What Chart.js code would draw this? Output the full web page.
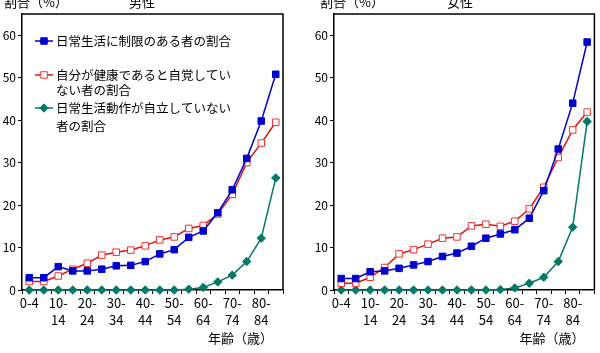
<!DOCTYPE html>
<html lang="ja">
<head>
<meta charset="utf-8">
<script src="https://cdn.jsdelivr.net/npm/chart.js@4.4.0/dist/chart.umd.min.js"></script>
<style>
    body { margin: 0; background: #fff; }
    #wrap { display: flex; width: 600px; height: 353px; }
    canvas { display: block; }
</style>
</head>
<body>
<div id="wrap">
    <canvas id="maleChart" width="300" height="353"></canvas>
    <canvas id="femaleChart" width="300" height="353"></canvas>
</div>
<script>
// 年齢階級（5歳刻み、ラベルは10歳ごと）
const ageLabels = ['0-4', '', ['10-', '14'], '', ['20-', '24'], '', ['30-', '34'], '', ['40-', '44'], '',
    ['50-', '54'], '', ['60-', '64'], '', ['70-', '74'], '', ['80-', '84'], ''];

// 男性
const limitedMale = [2.9, 2.9, 5.5, 4.5, 4.5, 4.9, 5.7, 5.8, 6.7, 8.5, 9.5, 12.4, 13.9, 18.2, 23.6, 31.0, 39.8, 50.8];
const unhealthyMale = [2.0, 2.0, 3.3, 4.9, 6.3, 8.2, 8.9, 9.4, 10.4, 11.8, 12.5, 14.5, 15.2, 17.9, 22.5, 30.0, 34.6, 39.5];
const adlMale = [0, 0, 0, 0, 0, 0, 0, 0, 0, 0, 0, 0.2, 0.6, 1.9, 3.5, 6.7, 12.2, 26.4];

// 女性
const limitedFemale = [2.7, 2.7, 4.3, 4.5, 5.1, 5.9, 6.7, 7.9, 8.7, 10.3, 12.2, 13.2, 14.2, 16.9, 23.4, 33.2, 44.0, 58.4];
const unhealthyFemale = [1.6, 1.6, 3.0, 5.3, 8.5, 9.5, 10.8, 12.2, 12.5, 15.1, 15.5, 15.0, 16.2, 19.1, 24.2, 31.2, 37.7, 41.9];
const adlFemale = [0, 0, 0, 0, 0, 0, 0, 0, 0, 0, 0, 0.1, 0.5, 1.6, 3.0, 6.7, 14.8, 39.7];

const yTicks = [0, 10, 20, 30, 40, 50, 60];
const legendLabels = [
    ['日常生活に制限のある者の割合'],
    ['自分が健康であると自覚してい', 'ない者の割合'],
    ['日常生活動作が自立していない', '者の割合']
];

const fontFamily = "'Noto Sans CJK JP', 'Noto Sans', sans-serif";
Chart.defaults.font.family = fontFamily;
Chart.defaults.color = '#000';

const styles = [
    {line: '#0000cc', point: '#0000cc', fill: '#0000cc', shape: 'rect', r: 4.6},
    {line: '#dd1111', point: '#ee3333', fill: '#ffffff', shape: 'rect', r: 4.6},
    {line: '#007a66', point: '#007a66', fill: '#007a66', shape: 'rectRot', r: 4.2}
];

const drawMarker = (ctx, st, x, y) => {
    ctx.save();
    ctx.fillStyle = st.fill;
    ctx.strokeStyle = st.point;
    ctx.lineWidth = 1;
    ctx.beginPath();
    if (st.shape === 'rect') {
        const h = st.r * Math.SQRT1_2;
        ctx.rect(x - h, y - h, 2 * h, 2 * h);
    } else {
        ctx.moveTo(x, y - st.r);
        ctx.lineTo(x + st.r, y);
        ctx.lineTo(x, y + st.r);
        ctx.lineTo(x - st.r, y);
        ctx.closePath();
    }
    ctx.fill();
    ctx.stroke();
    ctx.restore();
};

const framePlugin = {
    id: 'frame',
    afterDraw(chart, args, opts) {
        const {ctx, chartArea: a} = chart;
        ctx.save();
        ctx.strokeStyle = '#000';
        ctx.lineWidth = 1.5;
        ctx.beginPath();
        ctx.moveTo(a.left, a.top);
        ctx.lineTo(a.right, a.top);
        ctx.lineTo(a.right, a.bottom);
        ctx.stroke();

        ctx.fillStyle = '#000';
        ctx.font = `13px ${fontFamily}`;
        ctx.textBaseline = 'middle';
        ctx.textAlign = 'left';
        ctx.fillText('割合（%）', opts.unitX, 2);
        ctx.textAlign = 'center';
        ctx.fillText(opts.title, opts.titleX, 2);

        ctx.font = `13px ${fontFamily}`;
        ctx.textAlign = 'right';
        ctx.fillText('年齢（歳）', a.right - 10, 338);

        if (opts.legend) {
            const rows = [{y: 41, lines: [41]}, {y: 75, lines: [75, 90]}, {y: 108, lines: [108, 126]}];
            ctx.font = `12.5px ${fontFamily}`;
            ctx.textAlign = 'left';
            rows.forEach((row, i) => {
                const st = styles[i];
                ctx.strokeStyle = st.line;
                ctx.lineWidth = 1.5;
                ctx.beginPath();
                ctx.moveTo(35, row.y);
                ctx.lineTo(53, row.y);
                ctx.stroke();
                drawMarker(ctx, st, 44, row.y);
                ctx.fillStyle = '#000';
                legendLabels[i].forEach((txt, j) => ctx.fillText(txt, 56, row.lines[j]));
            });
        }
        ctx.restore();
    }
};

const makeDataset = (data, st) => ({
    data,
    borderColor: st.line,
    borderWidth: 1.5,
    pointStyle: st.shape,
    pointRadius: st.r,
    pointBorderWidth: 1,
    pointBorderColor: st.point,
    pointBackgroundColor: st.fill,
    tension: 0,
    clip: false
});

const initChart = (id, series, pad, title, legend) => {
    const el = document.getElementById(id);
    return new Chart(el, {
        type: 'line',
        data: {
            labels: ageLabels,
            datasets: series.map((s, i) => makeDataset(s, styles[i]))
        },
        options: {
            responsive: false,
            animation: false,
            layout: {padding: {left: pad.left, right: pad.right, top: 14, bottom: 0}},
            plugins: {
                legend: {display: false},
                tooltip: {enabled: false},
                frame: {title, titleX: pad.titleX, unitX: pad.unitX, legend}
            },
            scales: {
                x: {
                    offset: true,
                    grid: {offset: true, drawOnChartArea: false, tickLength: 4, color: '#000'},
                    border: {color: '#000', width: 1.5},
                    ticks: {autoSkip: false, maxRotation: 0, padding: 1, font: {size: 13, lineHeight: 1.3}, color: '#000'},
                    afterFit: s => { s.height = 63; }
                },
                y: {
                    min: 0,
                    max: 65,
                    ticks: {stepSize: 10, padding: 2, font: {size: 12}, color: '#000'},
                    afterBuildTicks: s => { s.ticks = yTicks.map(value => ({value})); },
                    grid: {drawOnChartArea: false, tickLength: 4, color: '#000'},
                    border: {color: '#000', width: 1.5},
                    afterFit: s => { s.width = 22; }
                }
            }
        },
        plugins: [framePlugin]
    });
};

initChart('maleChart', [limitedMale, unhealthyMale, adlMale], {left: 0, right: 17, titleX: 142, unitX: 4}, '男性', true);
initChart('femaleChart', [limitedFemale, unhealthyFemale, adlFemale], {left: 12, right: 5, titleX: 160, unitX: 20}, '女性', false);
</script>
</body>
</html>
